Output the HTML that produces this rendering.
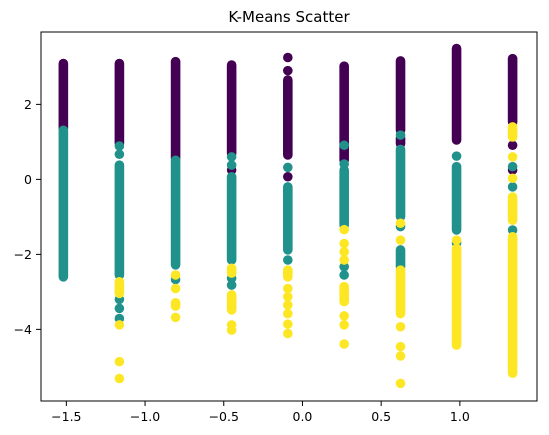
<!DOCTYPE html>
<html><head><meta charset="utf-8">
<style>
html,body{margin:0;padding:0;background:#fff;}
svg{display:block;font-family:"DejaVu Sans","Liberation Sans",sans-serif;}
</style></head>
<body>
<svg id="chart" width="549" height="435" viewBox="0 0 549 435" xmlns="http://www.w3.org/2000/svg">
<rect width="549" height="435" fill="#fff"/>
<text x="289" y="22" text-anchor="middle" font-size="15" fill="#000">K-Means Scatter</text>
<g id="marks"></g>
<g id="axes"></g>
</svg>
<script>
// Data (columns of x values and cluster segments: [columnIndex, yLow, yHigh])
const xCols = [-1.519, -1.163, -0.806, -0.450, -0.093, 0.265, 0.623, 0.979, 1.335];
const purpleSegs = [
  [0,1.36,3.09],[1,0.96,3.09],[2,0.56,3.14],[3,0.69,3.05],[3,0.25,0.25],
  [4,3.25,3.25],[4,2.90,2.90],[4,0.65,2.65],[4,0.07,0.07],
  [5,0.51,3.02],[6,1.31,3.16],[6,0.95,1.10],[7,1.05,3.49],
  [8,1.53,3.22],[8,0.91,0.91],[8,0.25,0.25]
];
const tealSegs = [
  [0,-2.60,1.31],[1,0.89,0.89],[1,0.67,0.67],[1,-2.55,0.38],[1,-3.2,-3.2],[1,-3.44,-3.44],[1,-3.71,-3.71],
  [2,-2.28,0.51],[2,-2.67,-2.67],
  [3,0.60,0.60],[3,0.38,0.38],[3,-2.15,0.07],[3,-2.64,-2.64],[3,-2.82,-2.82],
  [4,0.32,0.32],[4,-1.88,-0.20],[4,-2.15,-2.15],
  [5,0.91,0.91],[5,0.41,0.41],[5,-1.22,0.25],[5,-2.33,-2.33],[5,-2.55,-2.55],
  [6,1.18,1.18],[6,-0.99,0.80],[6,-1.26,-1.26],[6,-2.33,-1.88],
  [7,0.62,0.62],[7,-1.35,0.34],[7,-1.70,-1.70],
  [8,0.34,0.34],[8,-0.20,-0.20],[8,-1.35,-1.35]
];
const yellowSegs = [
  [1,-3.04,-2.73],[1,-3.88,-3.88],[1,-4.86,-4.86],[1,-5.31,-5.31],
  [2,-2.55,-2.55],[2,-2.91,-2.91],[2,-3.38,-3.29],[2,-3.68,-3.68],
  [3,-2.50,-2.37],[3,-3.48,-3.08],[3,-3.88,-3.88],[3,-4.02,-4.02],
  [4,-2.60,-2.42],[4,-2.91,-2.91],[4,-3.13,-3.13],[4,-3.35,-3.35],[4,-3.58,-3.58],[4,-3.86,-3.86],[4,-4.11,-4.11],
  [5,-1.34,-1.34],[5,-1.71,-1.71],[5,-1.93,-1.93],[5,-2.15,-2.15],[5,-3.26,-2.86],[5,-3.64,-3.64],[5,-3.88,-3.88],[5,-4.39,-4.39],
  [6,-1.17,-1.17],[6,-1.62,-1.62],[6,-3.58,-2.42],[6,-3.93,-3.93],[6,-4.46,-4.46],[6,-4.71,-4.71],[6,-5.44,-5.44],
  [7,-1.62,-1.62],[7,-4.42,-1.84],
  [8,1.13,1.40],[8,0.60,0.60],[8,0.03,0.03],[8,-1.09,-0.47],[8,-5.17,-1.53]
];
const xTicks = [-1.5, -1.0, -0.5, 0.0, 0.5, 1.0];
const xTickLabels = ["\u22121.5","\u22121.0","\u22120.5","0.0","0.5","1.0"];
const yTicks = [2, 0, -2, -4];
const yTickLabels = ["2","0","\u22122","\u22124"];

const NS = "http://www.w3.org/2000/svg";
const plot = {left:41, right:537, top:32, bottom:401};
const xDom = [-1.661, 1.490], yDom = [-5.91, 3.93];
function xs(v){ return plot.left + (v - xDom[0]) / (xDom[1]-xDom[0]) * (plot.right-plot.left); }
function ys(v){ return plot.bottom - (v - yDom[0]) / (yDom[1]-yDom[0]) * (plot.bottom-plot.top); }
function mk(tag, attrs, parent){ const e=document.createElementNS(NS,tag); for(const k in attrs) e.setAttribute(k,attrs[k]); parent.appendChild(e); return e; }

const marks = document.getElementById('marks');
function drawSegs(segs, color, name){
  segs.forEach(s=>{
    const x = xs(xCols[s[0]]);
    const l = mk('line',{x1:x,x2:x,y1:ys(s[1]),y2:ys(s[2]),stroke:color,'stroke-width':9.6,'stroke-linecap':'round'},marks);
    
    
  });
}
drawSegs(purpleSegs, '#440154', 'cluster-0-points');
drawSegs(tealSegs, '#21918c', 'cluster-1-points');
drawSegs(yellowSegs, '#fde725', 'cluster-2-points');

const axes = document.getElementById('axes');
const frame = mk('rect',{x:plot.left,y:plot.top,width:plot.right-plot.left,height:plot.bottom-plot.top,fill:'none',stroke:'#000','stroke-width':1},axes);


xTicks.forEach((t,i)=>{
  const x = xs(t);
  const tk = mk('line',{x1:x,x2:x,y1:plot.bottom,y2:plot.bottom+5,stroke:'#000','stroke-width':1},axes);
  
  
  const tx = mk('text',{x:x,y:plot.bottom+20,'text-anchor':'middle','font-size':12.5,fill:'#000'},axes);
  tx.textContent = xTickLabels[i];
  
  
});
yTicks.forEach((t,i)=>{
  const y = ys(t);
  const tk = mk('line',{x1:plot.left-5,x2:plot.left,y1:y,y2:y,stroke:'#000','stroke-width':1},axes);
  
  
  const tx = mk('text',{x:plot.left-9,y:y+4.5,'text-anchor':'end','font-size':12.5,fill:'#000'},axes);
  tx.textContent = yTickLabels[i];
  
  
});
</script>
</body></html>
